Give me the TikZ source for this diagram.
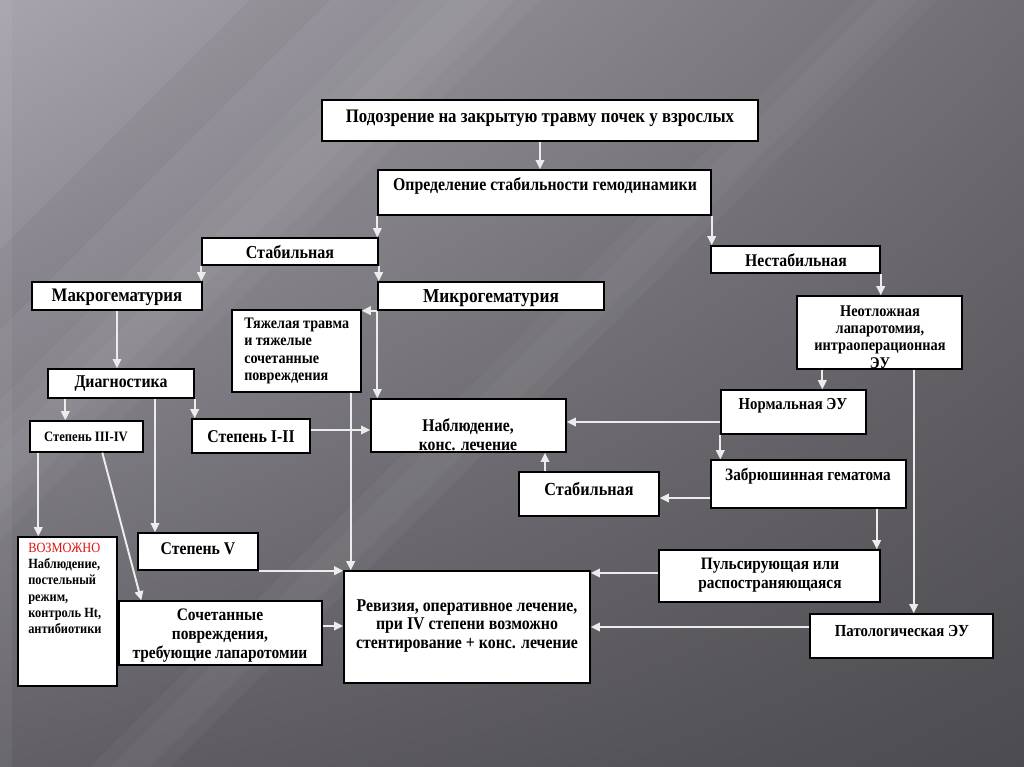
\documentclass[tikz,border=0pt]{standalone}
\usepackage{fontspec}
\setmainfont[FakeStretch=0.88]{Liberation Serif}
\usepackage{xcolor}
\usepackage{tikz}
\usetikzlibrary{arrows.meta,positioning,fit,calc,shadings}
\definecolor{bgtl}{RGB}{168,164,174}
\definecolor{bgtr}{RGB}{112,109,115}
\definecolor{bgbl}{RGB}{98,96,102}
\definecolor{bgbr}{RGB}{76,75,79}
\definecolor{linkgray}{RGB}{236,236,236}
\definecolor{alertred}{RGB}{225,20,20}

\tikzset{
  box/.style={draw=black, fill=white, line width=1pt, inner sep=0pt},
  lbl/.style 2 args={font=\bfseries\fontsize{#1}{#2}\selectfont, align=center, inner sep=0pt},
  link/.style={draw=linkgray, line width=1.4pt, -{Triangle[length=6.5pt,width=6pt]}},
  streak/.style={fill=white, opacity=0.035}
}

\begin{document}
\begin{tikzpicture}[x=0.025cm, y=-0.025cm]
            % Background
            \useasboundingbox (0,0) rectangle (1024,767);
            \shade[upper left=bgtl, upper right=bgtr, lower left=bgbl, lower right=bgbr] (0,0) rectangle (1024,767);
            \fill[streak] (0,400) -- (400,0) -- (540,0) -- (0,540) -- cycle;
            \fill[streak] (0,425) -- (425,0) -- (515,0) -- (0,515) -- cycle;
            \fill[streak] (0,450) -- (450,0) -- (490,0) -- (0,490) -- cycle;
            \fill[streak] (90,767) -- (857,0) -- (937,0) -- (170,767) -- cycle;
            \fill[streak] (110,767) -- (877,0) -- (917,0) -- (150,767) -- cycle;
            \fill[black, opacity=0.04] (0,250) -- (250,0) -- (330,0) -- (0,330) -- cycle;
            \fill[white, opacity=0.05] (0,0) rectangle (12,767);

            % Boxes
            \node[box, fit={(322,100) (758,141)}] (susp) {};
            \node[box, fit={(378,170) (711,215)}] (opr) {};
            \node[box, fit={(202,238) (378,265)}] (stab) {};
            \node[box, fit={(711,246) (880,273)}] (unst) {};
            \node[box, fit={(32,282) (202,310)}] (macro) {};
            \node[box, fit={(378,282) (604,310)}] (micro) {};
            \node[box, fit={(232,310) (361,392)}] (heavy) {};
            \node[box, fit={(797,296) (962,369)}] (lap) {};
            \node[box, fit={(48,369) (194,398)}] (diag) {};
            \node[box, fit={(371,399) (566,452)}] (obs) {};
            \node[box, fit={(721,390) (866,434)}] (norm) {};
            \node[box, fit={(30,421) (143,452)}] (gr34) {};
            \node[box, fit={(192,419) (310,453)}] (gr12) {};
            \node[box, fit={(711,460) (906,508)}] (retro) {};
            \node[box, fit={(519,472) (659,516)}] (stab2) {};
            \node[box, fit={(18,537) (117,686)}] (maybe) {};
            \node[box, fit={(138,533) (258,570)}] (gr5) {};
            \node[box, fit={(659,550) (880,602)}] (puls) {};
            \node[box, fit={(344,571) (590,683)}] (rev) {};
            \node[box, fit={(119,601) (322,665)}] (comb) {};
            \node[box, fit={(810,614) (993,658)}] (path) {};

            % Texts
            \node[lbl={13.6}{15}] (susp-t) at (540,118) {Подозрение на закрытую травму почек у взрослых};
            \node[lbl={12.8}{14}] (opr-t) at (545,186) {Определение стабильности гемодинамики};
            \node[lbl={13}{14}] (stab-t) at (290,252) {Стабильная};
            \node[lbl={12.7}{14}] (unst-t) at (796,260) {Нестабильная};
            \node[lbl={13.6}{15}] (macro-t) at (117,297) {Макрогематурия};
            \node[lbl={14}{15}] (micro-t) at (491,298) {Микрогематурия};
            \node[lbl={11.4}{12.5}, align=left, anchor=west] (heavy-t) at (244,351) {Тяжелая травма\\и тяжелые\\сочетанные\\повреждения};
            \node[lbl={11.6}{12.4}] (lap-t) at (880,337) {Неотложная\\лапаротомия,\\интраоперационная\\ЭУ};
            \node[lbl={12.8}{14}] (diag-t) at (121,384) {Диагностика};
            \node[lbl={12.7}{13.5}] (obs-t) at (468,435) {Наблюдение,\\конс. лечение};
            \node[lbl={11.9}{13}] (norm-t) at (793,406) {Нормальная ЭУ};
            \node[lbl={10.2}{11}] (gr34-t) at (86,437) {Степень III-IV};
            \node[lbl={12.8}{14}] (gr12-t) at (251,437) {Степень I-II};
            \node[lbl={12.3}{13}] (retro-t) at (808,476) {Забрюшинная гематома};
            \node[lbl={13.1}{14}] (stab2-t) at (589,489) {Стабильная};
            \node[lbl={10}{11.5}, align=left, anchor=north west] (maybe-t) at (28,543) {{\mdseries\color{alertred}ВОЗМОЖНО}\\Наблюдение,\\постельный\\режим,\\контроль Ht,\\антибиотики};
            \node[lbl={12.7}{14}] (gr5-t) at (198,549) {Степень V};
            \node[lbl={12.4}{13.5}] (puls-t) at (770,575) {Пульсирующая или\\распостраняющаяся};
            \node[lbl={12.8}{13}] (rev-t) at (467,626) {Ревизия, оперативное лечение,\\при IV степени возможно\\стентирование + конс. лечение};
            \node[lbl={12.5}{13.5}] (comb-t) at (220,636) {Сочетанные\\повреждения,\\требующие лапаротомии};
            \node[lbl={12}{13}] (path-t) at (902,631) {Патологическая ЭУ};

            % Connector start points off the box centres
            \coordinate (heavy-out) at ($(heavy.south east)+(-11,0)$);
            \coordinate (diag-l) at ($(diag.south west)+(18,0)$);
            \coordinate (diag-m) at ($(diag.south)+(34,0)$);
            \coordinate (gr12-out) at ($(gr12.east)+(0,-6)$);
            \coordinate (gr34-l) at ($(gr34.south west)+(9,0)$);
            \coordinate (gr34-r) at ($(gr34.south west)+(73,0)$);
            \coordinate (comb-in) at ($(comb.north west)+(23,0)$);
            \coordinate (comb-out) at ($(comb.east)+(0,-7)$);
            \coordinate (norm-out) at ($(norm.west)+(0,10)$);
            \coordinate (retro-l) at ($(retro.west)+(0,14)$);
            \coordinate (retro-b) at ($(retro.south east)+(-30,0)$);
            \coordinate (stab2-out) at ($(stab2.north)+(-44,0)$);
            \coordinate (puls-out) at ($(puls.west)+(0,-3)$);
            \coordinate (lap-l) at ($(lap.south west)+(26,0)$);
            \coordinate (lap-r) at ($(lap.south east)+(-49,0)$);
            \coordinate (path-out) at ($(path.west)+(0,-9)$);

            % Arrows
            \draw[link] (susp.south) -- (susp.south |- opr.north);
            \draw[link] (opr.south west) -- (opr.south west |- stab.north);
            \draw[link] (stab.south east) -- (stab.south east |- micro.north);
            \draw[link] (opr.south east) -- (opr.south east |- unst.north);
            \draw[link] (stab.south west) -- (stab.south west |- macro.north);
            \draw[link] (unst.south east) -- (unst.south east |- lap.north);
            \draw[link] (micro.south west) -- (micro.south west -| heavy.east);
            \draw[link] (micro.south west) -- (micro.south west |- obs.north);
            \draw[link] (heavy-out) -- (heavy-out |- rev.north);
            \draw[link] (macro.south) -- (macro.south |- diag.north);
            \draw[link] (diag-l) -- (diag-l |- gr34.north);
            \draw[link] (diag.south east) -- (diag.south east |- gr12.north);
            \draw[link] (diag-m) -- (diag-m |- gr5.north);
            \draw[link] (gr12-out) -- (gr12-out -| obs.west);
            \draw[link] (gr34-l) -- (gr34-l |- maybe.north);
            \draw[link] (gr34-r) -- (comb-in);
            \draw[link] (gr5.south east) -- (gr5.south east -| rev.west);
            \draw[link] (comb-out) -- (comb-out -| rev.west);
            \draw[link] (norm-out) -- (norm-out -| obs.east);
            \draw[link] (norm.south west) -- (norm.south west |- retro.north);
            \draw[link] (retro-l) -- (retro-l -| stab2.east);
            \draw[link] (stab2-out) -- (stab2-out |- obs.south);
            \draw[link] (retro-b) -- (retro-b |- puls.north);
            \draw[link] (puls-out) -- (puls-out -| rev.east);
            \draw[link] (lap-l) -- (lap-l |- norm.north);
            \draw[link] (lap-r) -- (lap-r |- path.north);
            \draw[link] (path-out) -- (path-out -| rev.east);
\end{tikzpicture}
\end{document}
